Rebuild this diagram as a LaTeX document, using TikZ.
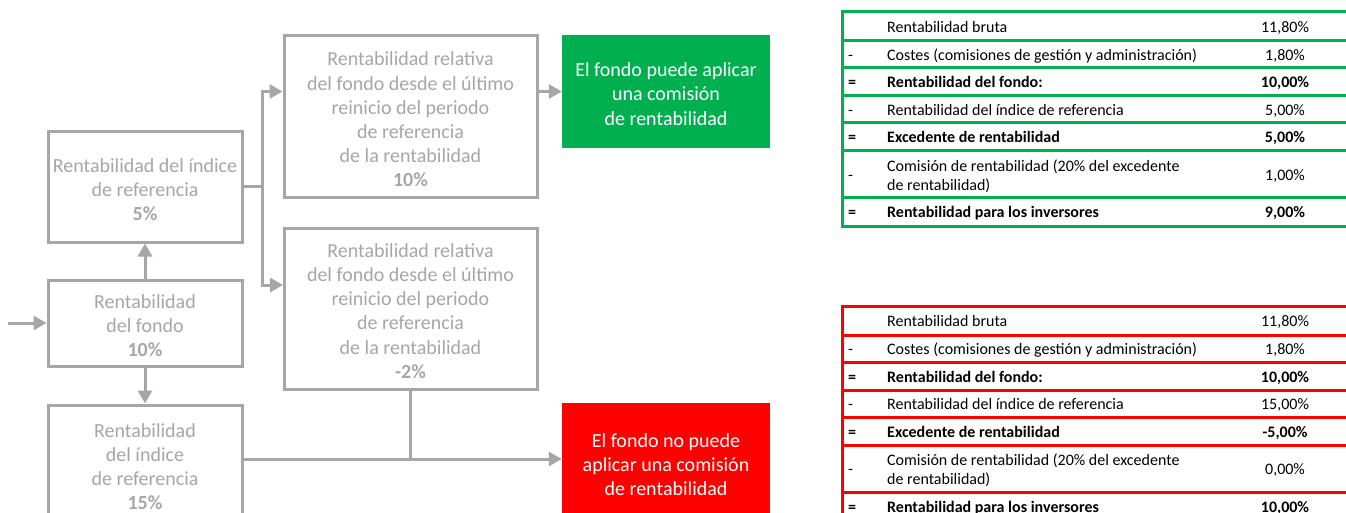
\documentclass[tikz,border=0pt]{standalone}
\usepackage{fontspec}
\setmainfont{Carlito}
\usetikzlibrary{arrows.meta}
\definecolor{grisc}{RGB}{166,166,166}
\definecolor{verde}{RGB}{0,176,80}
\definecolor{rojo}{RGB}{255,0,0}
\newcommand\mitabla[7]{%
\begin{scope}[shift={(0,#7)}]
\foreach \yy in {12,41,68,96,123,151,198,226}{\draw[line width=3pt,draw=#2] (842,\yy) -- (1352,\yy);}
\draw[line width=3pt,draw=#2] (842,10.5) -- (842,227.5);
\node[tl] (#1a1) at (887,26.5) {Rentabilidad bruta};
\node[tv] (#1b1) at (1285,26.5) {11,80\%};
\node[ts] (#1s2) at (848,54.5) {-};
\node[tl] (#1a2) at (887,54.5) {Costes (comisiones de gestión y administración)};
\node[tv] (#1b2) at (1285,54.5) {1,80\%};
\node[ts] (#1s3) at (848,82) {\textbf{=}};
\node[tl] (#1a3) at (887,82) {\textbf{Rentabilidad del fondo:}};
\node[tv] (#1b3) at (1285,82) {\textbf{10,00\%}};
\node[ts] (#1s4) at (848,109.5) {-};
\node[tl] (#1a4) at (887,109.5) {Rentabilidad del índice de referencia};
\node[tv] (#1b4) at (1285,109.5) {#3};
\node[ts] (#1s5) at (848,137) {\textbf{=}};
\node[tl] (#1a5) at (887,137) {\textbf{Excedente de rentabilidad}};
\node[tv] (#1b5) at (1285,137) {\textbf{#4}};
\node[ts] (#1s6) at (848,174.5) {-};
\node[tm] (#1a6) at (887,174.5) {Comisión de rentabilidad (20\% del excedente\\de rentabilidad)};
\node[tv] (#1b6) at (1285,174.5) {#5};
\node[ts] (#1s7) at (848,212) {\textbf{=}};
\node[tl] (#1a7) at (887,212) {\textbf{Rentabilidad para los inversores}};
\node[tv] (#1b7) at (1285,212) {\textbf{#6}};
\end{scope}}
\begin{document}
\begin{tikzpicture}[x=1pt,y=-1pt,
  frame/.style={draw=grisc, line width=3pt, inner sep=0pt},
  gtxt/.style={text=grisc, align=center, inner sep=0pt, yshift=-2.5pt,
    font=\fontsize{20}{24.2}\selectfont},
  ctxt/.style={text=white, align=center, inner sep=0pt, yshift=-2.5pt,
    font=\fontsize{20}{24.2}\selectfont},
  conn/.style={draw=grisc, line width=3pt},
  arr/.style={conn, -{Triangle[length=13pt,width=14pt]}},
  tbase/.style={inner sep=0pt, font=\fontsize{16}{19.5}\selectfont, text=black, yshift=-2pt},
  tl/.style={tbase, anchor=west, text height=11pt, text depth=3pt},
  ts/.style={tbase, anchor=west, text height=11pt, text depth=3pt},
  tv/.style={tbase, anchor=center, text height=11pt, text depth=3pt},
  tm/.style={tbase, anchor=west, align=left},
]
\useasboundingbox (0,0) rectangle (1346,513);
% grey boxes
\node[frame, minimum width=194pt, minimum height=110pt,
  label={[gtxt]center:{Rentabilidad del índice\\de referencia\\\textbf{5\%}}}] (A) at (145,187) {};
\node[frame, minimum width=194pt, minimum height=86pt,
  label={[gtxt]center:{Rentabilidad\\del fondo\\\textbf{10\%}}}] (F) at (145,323) {};
\node[frame, minimum width=194pt, minimum height=118pt,
  label={[gtxt]center:{Rentabilidad\\del índice\\de referencia\\\textbf{15\%}}}] (B) at (145,464) {};
\node[frame, minimum width=253pt, minimum height=162pt,
  label={[gtxt]center:{Rentabilidad relativa\\del fondo desde el último\\reinicio del periodo\\de referencia\\de la rentabilidad\\\textbf{10\%}}}] (R1) at (410.5,117) {};
\node[frame, minimum width=253pt, minimum height=161pt,
  label={[gtxt]center:{Rentabilidad relativa\\del fondo desde el último\\reinicio del periodo\\de referencia\\de la rentabilidad\\\textbf{-2\%}}}] (R2) at (410.5,308.5) {};
% result boxes
\node[fill=verde, inner sep=0pt, minimum width=208pt, minimum height=113pt,
  label={[ctxt]center:{El fondo puede aplicar\\una comisión\\de rentabilidad}}] (G) at (666,91.5) {};
\node[fill=rojo, inner sep=0pt, minimum width=208pt, minimum height=118pt,
  label={[ctxt]center:{El fondo no puede\\aplicar una comisión\\de rentabilidad}}] (Rd) at (666,462) {};
% connectors
\coordinate (in) at (8,323);
\coordinate (j1) at (262,187);
\coordinate (r2in) at (283,285);
\coordinate (j2) at (410.5,459);
\draw[arr] (in) -- (F.west);
\draw[arr] (F.north) -- (A.south);
\draw[arr] (F.south) -- (B.north);
\draw[conn] (A.east) -- (j1);
\draw[arr] (j1) |- (R1.west |- G.west);
\draw[arr] (j1) |- (r2in);
\draw[arr] (R1.east |- G.west) -- (G.west);
\draw[conn] (R2.south) -- (j2);
\draw[arr] (B.east |- j2) -- (Rd.west |- j2);
% tables
\mitabla{g}{verde}{5,00\%}{5,00\%}{1,00\%}{9,00\%}{0}
\mitabla{r}{rojo}{15,00\%}{-5,00\%}{0,00\%}{10,00\%}{294}
\end{tikzpicture}
\end{document}
